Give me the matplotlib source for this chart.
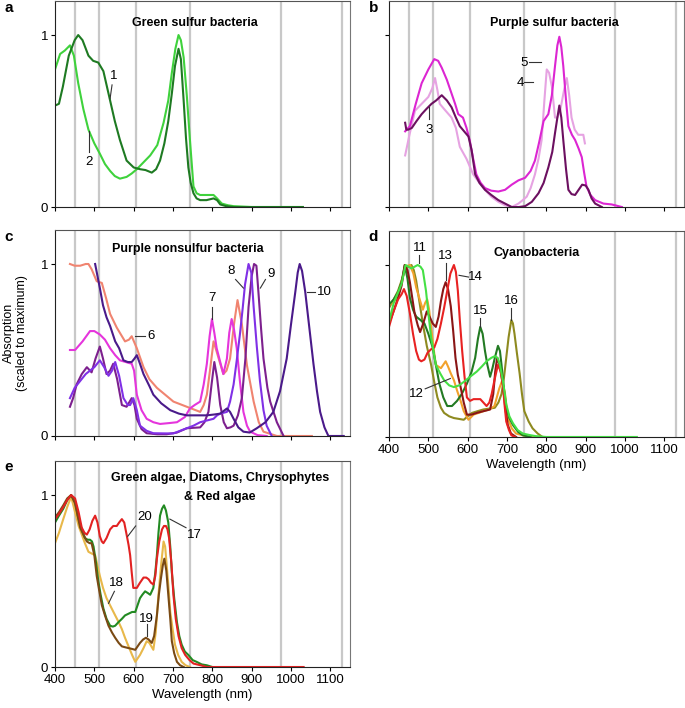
import numpy as np
import matplotlib.pyplot as plt

plt.rcParams['font.family'] = ['Liberation Sans', 'DejaVu Sans']
plt.rcParams['font.size'] = 9

# ---- panel a: green sulfur bacteria
wl_1 = [400, 410, 420, 435, 450, 459, 470, 485, 497, 510, 523, 540, 552, 565, 582, 600, 616, 630, 646, 657, 667, 678, 688, 697, 705, 714, 720, 727, 733, 739, 745, 752, 760, 769, 785, 803, 812, 820, 835, 854, 900, 960, 1030]
ab_1 = [0.59, 0.60, 0.70, 0.88, 0.97, 1.0, 0.97, 0.88, 0.85, 0.84, 0.79, 0.62, 0.50, 0.39, 0.27, 0.23, 0.22, 0.215, 0.20, 0.22, 0.27, 0.37, 0.50, 0.66, 0.82, 0.92, 0.86, 0.62, 0.40, 0.23, 0.14, 0.08, 0.05, 0.04, 0.04, 0.05, 0.04, 0.015, 0.005, 0.0, 0.0, 0.0, 0.0]
wl_2 = [400, 413, 425, 438, 448, 459, 472, 485, 500, 514, 527, 540, 552, 565, 582, 595, 608, 625, 642, 660, 676, 688, 697, 706, 714, 720, 727, 735, 743, 752, 760, 769, 785, 803, 812, 824, 840, 854, 900, 960, 1030]
ab_2 = [0.80, 0.89, 0.91, 0.94, 0.88, 0.72, 0.57, 0.45, 0.37, 0.31, 0.25, 0.21, 0.18, 0.165, 0.175, 0.195, 0.22, 0.26, 0.30, 0.36, 0.49, 0.62, 0.78, 0.92, 1.0, 0.97, 0.87, 0.65, 0.39, 0.12, 0.08, 0.07, 0.07, 0.07, 0.05, 0.02, 0.01, 0.005, 0, 0, 0]

# ---- panel b: purple sulfur bacteria
wl_3 = [441, 444, 449, 458, 470, 483, 495, 508, 520, 534, 547, 559, 570, 580, 591, 602, 610, 619, 630, 644, 660, 678, 695, 712, 730, 746, 763, 780, 793, 805, 815, 822, 828, 833, 838, 843, 850, 856, 864, 873, 882, 891, 900, 907, 915, 924, 941]
ab_3 = [0.49, 0.45, 0.45, 0.46, 0.50, 0.54, 0.57, 0.60, 0.62, 0.65, 0.62, 0.58, 0.52, 0.47, 0.44, 0.41, 0.33, 0.19, 0.14, 0.10, 0.07, 0.04, 0.02, 0.0, 0.0, 0.005, 0.03, 0.08, 0.14, 0.23, 0.32, 0.43, 0.52, 0.59, 0.52, 0.39, 0.22, 0.10, 0.075, 0.07, 0.10, 0.13, 0.125, 0.10, 0.05, 0.02, 0.0]
wl_4 = [441, 452, 466, 483, 500, 510, 517, 523, 529, 540, 559, 570, 580, 597, 614, 630, 644, 660, 678, 695, 712, 729, 740, 750, 760, 771, 780, 788, 795, 801, 807, 814, 822, 828, 835, 845, 852, 858, 864, 872, 881, 894, 898]
ab_4 = [0.30, 0.42, 0.56, 0.60, 0.64, 0.69, 0.75, 0.68, 0.60, 0.57, 0.52, 0.46, 0.35, 0.28, 0.19, 0.14, 0.10, 0.06, 0.03, 0.01, 0.0, 0.02, 0.04, 0.06, 0.11, 0.19, 0.28, 0.39, 0.62, 0.80, 0.78, 0.70, 0.52, 0.52, 0.56, 0.68, 0.75, 0.65, 0.52, 0.45, 0.42, 0.42, 0.37]
wl_5 = [441, 453, 468, 483, 500, 515, 525, 534, 547, 559, 568, 576, 588, 597, 605, 614, 622, 633, 644, 660, 678, 695, 712, 729, 746, 760, 771, 782, 793, 805, 814, 822, 828, 833, 838, 843, 850, 856, 865, 873, 882, 890, 896, 902, 912, 924, 945, 966, 992]
ab_5 = [0.44, 0.47, 0.60, 0.72, 0.80, 0.86, 0.85, 0.81, 0.74, 0.66, 0.60, 0.54, 0.52, 0.46, 0.39, 0.28, 0.19, 0.14, 0.11, 0.095, 0.09, 0.10, 0.13, 0.155, 0.17, 0.21, 0.27, 0.38, 0.50, 0.54, 0.65, 0.82, 0.94, 0.99, 0.93, 0.82, 0.62, 0.47, 0.42, 0.39, 0.34, 0.29, 0.20, 0.12, 0.07, 0.04, 0.02, 0.015, 0.0]

# ---- panel c: purple nonsulfur bacteria
wl_6 = [438, 450, 464, 478, 485, 493, 506, 519, 530, 540, 557, 578, 588, 595, 608, 625, 640, 659, 680, 701, 735, 769, 778, 786, 795, 803, 811, 820, 828, 836, 845, 855, 864, 875, 888, 905, 918, 930, 964, 1053]
ab_6 = [1.0, 0.99, 0.99, 1.0, 1.0, 0.97, 0.90, 0.89, 0.80, 0.71, 0.63, 0.55, 0.56, 0.58, 0.51, 0.40, 0.33, 0.28, 0.24, 0.20, 0.17, 0.14, 0.18, 0.24, 0.40, 0.55, 0.49, 0.42, 0.36, 0.38, 0.45, 0.65, 0.79, 0.65, 0.41, 0.20, 0.08, 0.025, 0.0, 0.0]
wl_7 = [438, 451, 470, 489, 500, 514, 527, 540, 553, 565, 580, 595, 601, 608, 620, 633, 650, 667, 690, 710, 730, 743, 755, 769, 778, 786, 793, 799, 805, 811, 820, 828, 837, 843, 849, 855, 862, 870, 879, 888, 896, 915, 938]
ab_7 = [0.50, 0.50, 0.55, 0.61, 0.61, 0.59, 0.56, 0.51, 0.47, 0.44, 0.43, 0.42, 0.38, 0.24, 0.15, 0.10, 0.08, 0.07, 0.075, 0.08, 0.11, 0.16, 0.18, 0.20, 0.30, 0.42, 0.58, 0.68, 0.60, 0.51, 0.43, 0.36, 0.45, 0.60, 0.68, 0.62, 0.51, 0.32, 0.14, 0.06, 0.025, 0.005, 0.0]
wl_8 = [438, 450, 464, 478, 489, 500, 514, 525, 536, 545, 553, 563, 574, 585, 591, 599, 608, 616, 633, 650, 680, 701, 718, 735, 752, 769, 786, 803, 812, 820, 837, 845, 854, 862, 870, 877, 883, 892, 899, 905, 913, 921, 930, 938, 951]
ab_8 = [0.22, 0.28, 0.32, 0.36, 0.38, 0.40, 0.44, 0.40, 0.35, 0.38, 0.43, 0.35, 0.22, 0.18, 0.18, 0.22, 0.15, 0.06, 0.03, 0.016, 0.015, 0.015, 0.03, 0.045, 0.06, 0.08, 0.09, 0.10, 0.12, 0.13, 0.14, 0.20, 0.30, 0.44, 0.59, 0.74, 0.88, 1.0, 0.95, 0.75, 0.52, 0.32, 0.15, 0.06, 0.0]
wl_9 = [438, 446, 455, 468, 481, 493, 503, 514, 522, 531, 540, 548, 558, 570, 582, 595, 602, 608, 620, 633, 660, 684, 710, 735, 769, 780, 790, 798, 805, 812, 820, 829, 837, 846, 854, 865, 875, 884, 892, 900, 906, 912, 917, 924, 930, 940, 947, 964, 981]
ab_9 = [0.17, 0.22, 0.30, 0.36, 0.40, 0.37, 0.45, 0.52, 0.45, 0.36, 0.38, 0.42, 0.33, 0.18, 0.17, 0.22, 0.18, 0.10, 0.04, 0.016, 0.01, 0.01, 0.02, 0.045, 0.05, 0.08, 0.14, 0.30, 0.43, 0.34, 0.18, 0.08, 0.045, 0.05, 0.06, 0.12, 0.22, 0.45, 0.75, 0.93, 1.0, 0.99, 0.84, 0.62, 0.45, 0.28, 0.20, 0.08, 0.0]
wl_10 = [502, 508, 514, 522, 531, 540, 553, 563, 574, 585, 595, 602, 608, 616, 625, 640, 650, 670, 693, 715, 735, 760, 786, 805, 820, 837, 845, 854, 866, 879, 895, 913, 935, 955, 972, 989, 1000, 1011, 1017, 1022, 1028, 1036, 1046, 1057, 1066, 1074, 1085, 1095, 1110, 1134]
ab_10 = [1.0, 0.93, 0.86, 0.76, 0.69, 0.64, 0.55, 0.51, 0.44, 0.43, 0.43, 0.45, 0.47, 0.42, 0.36, 0.29, 0.24, 0.19, 0.15, 0.13, 0.12, 0.12, 0.12, 0.125, 0.13, 0.16, 0.14, 0.10, 0.05, 0.025, 0.02, 0.045, 0.08, 0.14, 0.26, 0.45, 0.65, 0.84, 0.95, 1.0, 0.96, 0.84, 0.64, 0.42, 0.26, 0.14, 0.05, 0.0, 0.0, 0.0]

# ---- panel d: cyanobacteria
wl_11 = [400, 412, 423, 432, 442, 450, 457, 465, 473, 480, 486, 494, 500, 507, 519, 530, 540, 553, 565, 578, 590, 606, 623, 636, 648, 660, 669, 676, 682, 690, 698, 706, 715, 727, 740, 760, 773, 800, 900, 1030]
ab_11 = [0.67, 0.78, 0.84, 0.89, 1.0, 0.99, 0.98, 0.99, 1.0, 0.99, 0.97, 0.85, 0.72, 0.58, 0.42, 0.37, 0.33, 0.30, 0.29, 0.30, 0.32, 0.35, 0.38, 0.41, 0.44, 0.46, 0.47, 0.46, 0.42, 0.32, 0.19, 0.12, 0.08, 0.04, 0.02, 0.01, 0.005, 0.0, 0.0, 0.0]
wl_12 = [400, 410, 423, 432, 440, 453, 462, 469, 478, 486, 492, 497, 502, 507, 513, 519, 525, 532, 538, 544, 550, 557, 565, 573, 582, 590, 602, 615, 628, 640, 655, 668, 680, 688, 695, 702, 712, 723, 740, 757, 790]
ab_12 = [0.77, 0.78, 0.82, 0.90, 0.99, 1.0, 0.95, 0.87, 0.80, 0.74, 0.78, 0.80, 0.74, 0.64, 0.52, 0.42, 0.41, 0.40, 0.42, 0.44, 0.41, 0.37, 0.33, 0.27, 0.21, 0.15, 0.10, 0.13, 0.14, 0.15, 0.16, 0.18, 0.28, 0.33, 0.25, 0.11, 0.05, 0.02, 0.01, 0.0, 0.0]
wl_13 = [400, 410, 423, 432, 440, 447, 453, 465, 473, 479, 487, 496, 503, 511, 519, 526, 532, 538, 544, 550, 557, 563, 569, 575, 582, 590, 598, 610, 623, 640, 657, 665, 670, 675, 681, 690, 696, 702, 710, 723]
ab_13 = [0.66, 0.72, 0.81, 0.88, 1.0, 0.97, 0.90, 0.72, 0.65, 0.61, 0.66, 0.73, 0.70, 0.66, 0.64, 0.70, 0.79, 0.86, 0.90, 0.86, 0.76, 0.62, 0.46, 0.36, 0.29, 0.20, 0.13, 0.13, 0.14, 0.15, 0.16, 0.25, 0.38, 0.46, 0.42, 0.30, 0.16, 0.07, 0.02, 0.0]
wl_14 = [400, 410, 423, 432, 438, 445, 453, 461, 469, 476, 482, 490, 498, 507, 515, 523, 532, 540, 548, 556, 565, 570, 575, 580, 586, 592, 598, 606, 615, 623, 632, 640, 648, 655, 661, 668, 677, 684, 690, 694, 698, 705, 711, 720]
ab_14 = [0.64, 0.72, 0.80, 0.83, 0.86, 0.82, 0.72, 0.60, 0.50, 0.45, 0.44, 0.45, 0.49, 0.51, 0.52, 0.57, 0.66, 0.75, 0.85, 0.95, 1.0, 0.96, 0.85, 0.68, 0.50, 0.35, 0.23, 0.21, 0.22, 0.22, 0.22, 0.20, 0.18, 0.20, 0.25, 0.33, 0.42, 0.38, 0.29, 0.18, 0.09, 0.04, 0.01, 0.0]
wl_15 = [400, 412, 423, 432, 440, 447, 453, 461, 469, 480, 490, 500, 511, 519, 528, 538, 548, 560, 573, 585, 598, 610, 619, 626, 632, 638, 644, 650, 657, 663, 669, 677, 682, 686, 692, 698, 706, 715, 728, 740, 760]
ab_15 = [0.77, 0.80, 0.84, 0.90, 1.0, 0.92, 0.81, 0.74, 0.70, 0.68, 0.66, 0.60, 0.52, 0.42, 0.31, 0.23, 0.18, 0.18, 0.21, 0.25, 0.31, 0.38, 0.46, 0.57, 0.64, 0.60, 0.50, 0.42, 0.35, 0.40, 0.46, 0.53, 0.50, 0.42, 0.28, 0.17, 0.11, 0.07, 0.03, 0.01, 0.0]
wl_16 = [400, 412, 423, 432, 442, 450, 457, 463, 469, 477, 486, 496, 507, 515, 523, 532, 540, 553, 565, 578, 590, 600, 611, 625, 640, 655, 669, 678, 686, 692, 698, 704, 711, 715, 719, 725, 732, 738, 744, 755, 765, 778, 790]
ab_16 = [0.75, 0.80, 0.85, 0.91, 0.98, 0.99, 1.0, 0.97, 0.91, 0.79, 0.66, 0.53, 0.42, 0.32, 0.23, 0.17, 0.14, 0.12, 0.11, 0.105, 0.10, 0.12, 0.14, 0.15, 0.16, 0.165, 0.17, 0.20, 0.25, 0.34, 0.46, 0.58, 0.68, 0.66, 0.60, 0.49, 0.37, 0.25, 0.15, 0.09, 0.05, 0.02, 0.0]

# ---- panel e: green algae, diatoms, chrysophytes & red algae
wl_17 = [400, 410, 421, 431, 441, 451, 458, 464, 470, 476, 483, 489, 494, 498, 504, 510, 516, 523, 531, 540, 547, 553, 561, 570, 578, 587, 596, 604, 610, 616, 622, 629, 636, 642, 650, 655, 659, 663, 667, 672, 677, 682, 688, 693, 697, 703, 710, 716, 722, 730, 739, 750, 760, 773, 786, 800]
ab_17 = [0.84, 0.88, 0.92, 0.97, 1.0, 0.96, 0.88, 0.83, 0.79, 0.75, 0.74, 0.74, 0.73, 0.70, 0.61, 0.50, 0.42, 0.34, 0.28, 0.24, 0.235, 0.24, 0.26, 0.28, 0.30, 0.31, 0.32, 0.32, 0.36, 0.40, 0.42, 0.44, 0.43, 0.42, 0.46, 0.55, 0.65, 0.78, 0.88, 0.92, 0.94, 0.91, 0.84, 0.70, 0.55, 0.40, 0.26, 0.18, 0.13, 0.09, 0.07, 0.04, 0.03, 0.015, 0.01, 0.0]
wl_18 = [400, 410, 421, 431, 441, 451, 460, 468, 476, 485, 493, 502, 508, 514, 522, 531, 542, 553, 562, 570, 578, 587, 596, 604, 610, 616, 625, 633, 640, 650, 656, 663, 670, 676, 680, 684, 688, 693, 699, 705, 713, 722, 732, 743]
ab_18 = [0.72, 0.78, 0.86, 0.93, 0.99, 0.90, 0.82, 0.77, 0.72, 0.67, 0.66, 0.65, 0.59, 0.53, 0.46, 0.40, 0.35, 0.30, 0.26, 0.22, 0.17, 0.12, 0.07, 0.03, 0.05, 0.07, 0.11, 0.15, 0.14, 0.10, 0.20, 0.42, 0.60, 0.73, 0.70, 0.59, 0.48, 0.32, 0.22, 0.13, 0.07, 0.03, 0.01, 0.0]
wl_19 = [400, 410, 421, 431, 441, 451, 464, 472, 481, 488, 493, 500, 506, 512, 519, 527, 536, 545, 553, 562, 570, 578, 587, 596, 604, 610, 616, 624, 631, 638, 646, 652, 659, 664, 669, 674, 678, 683, 688, 693, 697, 703, 710, 718, 727]
ab_19 = [0.87, 0.90, 0.94, 0.98, 1.0, 0.95, 0.81, 0.77, 0.73, 0.72, 0.72, 0.65, 0.53, 0.45, 0.36, 0.30, 0.24, 0.20, 0.17, 0.14, 0.12, 0.115, 0.11, 0.105, 0.10, 0.12, 0.14, 0.16, 0.17, 0.16, 0.14, 0.18, 0.30, 0.42, 0.51, 0.59, 0.63, 0.56, 0.42, 0.28, 0.15, 0.08, 0.03, 0.01, 0.0]
wl_20 = [400, 410, 421, 431, 441, 451, 460, 468, 475, 481, 488, 495, 502, 508, 514, 519, 523, 531, 540, 548, 557, 563, 570, 576, 582, 587, 591, 595, 599, 604, 608, 616, 625, 632, 638, 644, 650, 655, 659, 665, 672, 677, 682, 686, 690, 696, 701, 707, 714, 722, 731, 742, 752, 770, 786, 850, 950, 1032]
ab_20 = [0.86, 0.89, 0.93, 0.97, 1.0, 0.98, 0.90, 0.81, 0.78, 0.77, 0.80, 0.85, 0.88, 0.84, 0.76, 0.73, 0.72, 0.75, 0.80, 0.82, 0.82, 0.84, 0.86, 0.84, 0.77, 0.71, 0.65, 0.55, 0.46, 0.46, 0.46, 0.49, 0.52, 0.52, 0.51, 0.49, 0.48, 0.53, 0.63, 0.73, 0.80, 0.82, 0.82, 0.80, 0.75, 0.60, 0.42, 0.28, 0.18, 0.11, 0.07, 0.04, 0.02, 0.01, 0.0, 0.0, 0.0, 0.0]

grid_lines = [450, 513, 605, 742, 975, 1130]
x_ticks = [400, 500, 600, 700, 800, 900, 1000, 1100]

fig = plt.figure(figsize=(6.85, 7.08), dpi=100)

W = 0.4307
ax_a = fig.add_axes([0.0803, 0.7076, W, 0.2915])
ax_b = fig.add_axes([0.5679, 0.7076, W, 0.2915])
ax_c = fig.add_axes([0.0803, 0.3842, W, 0.2915])
ax_d = fig.add_axes([0.5679, 0.3828, W, 0.2915])
ax_e = fig.add_axes([0.0803, 0.0579, W, 0.2915])

for ax in [ax_a, ax_b, ax_c, ax_d, ax_e]:
    ax.set_xlim(400, 1150)
    ax.set_ylim(0, 1.2)
    for g in grid_lines:
        ax.axvline(g, color='#c8c8c8', lw=1.6, zorder=0)
    ax.set_xticks(x_ticks)
    ax.set_yticks([0, 1])
    ax.tick_params(direction='out', length=3, width=0.8, labelsize=9.5, pad=2)
    for s in ax.spines.values():
        s.set_linewidth(0.8)
        s.set_color('#222222')
    ax.spines['top'].set_color('#555555')
    ax.spines['right'].set_color('#777777')

for ax in [ax_a, ax_b, ax_c]:
    ax.set_xticklabels([])
for ax in [ax_b, ax_d]:
    ax.set_yticklabels([])


def curve(ax, wl, ab, color):
    ax.plot(wl, ab, color=color, lw=1.5, solid_joinstyle='round')


def tag(ax, text, tx, ty, lx, ly):
    ax.plot(lx, ly, color='#333333', lw=0.8)
    ax.text(tx, ty, text, ha='center', va='center', fontsize=9.5)


# a
curve(ax_a, wl_2, ab_2, '#3fd23c')
curve(ax_a, wl_1, ab_1, '#1e7a22')
ax_a.text(756, 1.07, 'Green sulfur bacteria', ha='center', va='center', fontweight='bold', fontsize=9)
tag(ax_a, '1', 548, 0.76, [545, 540], [0.71, 0.63])
tag(ax_a, '2', 486, 0.26, [486, 486], [0.32, 0.44])

# b
curve(ax_b, wl_4, ab_4, '#e6a3e2')
curve(ax_b, wl_5, ab_5, '#dc26d2')
curve(ax_b, wl_3, ab_3, '#6c1060')
ax_b.text(821, 1.07, 'Purple sulfur bacteria', ha='center', va='center', fontweight='bold', fontsize=9)
tag(ax_b, '3', 502, 0.45, [502, 502], [0.51, 0.58])
tag(ax_b, '5', 744, 0.84, [757, 787], [0.845, 0.845])
tag(ax_b, '4', 733, 0.72, [744, 765], [0.725, 0.725])

# c
curve(ax_c, wl_6, ab_6, '#f08470')
curve(ax_c, wl_7, ab_7, '#e535dc')
curve(ax_c, wl_9, ab_9, '#7d208e')
curve(ax_c, wl_8, ab_8, '#8030e6')
curve(ax_c, wl_10, ab_10, '#4a1a8a')
ax_c.text(738, 1.09, 'Purple nonsulfur bacteria', ha='center', va='center', fontweight='bold', fontsize=9)
tag(ax_c, '6', 645, 0.58, [604, 630], [0.58, 0.58])
tag(ax_c, '7', 800, 0.80, [800, 800], [0.75, 0.68])
tag(ax_c, '8', 848, 0.96, [859, 879], [0.91, 0.86])
tag(ax_c, '9', 948, 0.94, [935, 922], [0.91, 0.86])
tag(ax_c, '10', 1085, 0.84, [1040, 1062], [0.84, 0.84])
ax_c.set_ylabel('Absorption\n(scaled to maximum)', fontsize=9)
ax_c.yaxis.set_label_coords(-0.09, 0.5)

# d
curve(ax_d, wl_16, ab_16, '#8e8a20')
curve(ax_d, wl_12, ab_12, '#f2a22c')
curve(ax_d, wl_15, ab_15, '#237a23')
curve(ax_d, wl_13, ab_13, '#8a1616')
curve(ax_d, wl_14, ab_14, '#e82222')
curve(ax_d, wl_11, ab_11, '#45e045')
ax_d.text(775, 1.07, 'Cyanobacteria', ha='center', va='center', fontweight='bold', fontsize=9)
tag(ax_d, '11', 479, 1.10, [476, 476], [1.06, 1.01])
tag(ax_d, '13', 544, 1.05, [544, 544], [1.01, 0.91])
tag(ax_d, '14', 620, 0.93, [578, 602], [0.94, 0.93])
tag(ax_d, '12', 469, 0.25, [492, 556], [0.28, 0.34])
tag(ax_d, '15', 632, 0.73, [632, 632], [0.69, 0.64])
tag(ax_d, '16', 711, 0.79, [711, 711], [0.75, 0.68])
ax_d.set_xlabel('Wavelength (nm)', fontsize=9.5, labelpad=2)

# e
curve(ax_e, wl_18, ab_18, '#e8b84a')
curve(ax_e, wl_17, ab_17, '#228a22')
curve(ax_e, wl_19, ab_19, '#7a4a14')
curve(ax_e, wl_20, ab_20, '#e22222')
ax_e.text(820, 1.10, 'Green algae, Diatoms, Chrysophytes', ha='center', va='center', fontweight='bold', fontsize=9)
ax_e.text(820, 0.99, '& Red algae', ha='center', va='center', fontweight='bold', fontsize=9)
tag(ax_e, '20', 628, 0.87, [605, 585], [0.82, 0.76])
tag(ax_e, '17', 755, 0.77, [733, 692], [0.81, 0.86])
tag(ax_e, '18', 557, 0.49, [551, 536], [0.44, 0.37])
tag(ax_e, '19', 633, 0.28, [633, 633], [0.25, 0.18])
ax_e.set_xlabel('Wavelength (nm)', fontsize=9.5, labelpad=2)

# panel letters
for lx, ly, s in [(0.007, 0.998, 'a'), (0.538, 0.998, 'b'), (0.007, 0.675, 'c'),
                  (0.538, 0.675, 'd'), (0.007, 0.350, 'e')]:
    fig.text(lx, ly, s, fontweight='bold', fontsize=11, va='top', ha='left')

fig.savefig('out.png', dpi=100)
